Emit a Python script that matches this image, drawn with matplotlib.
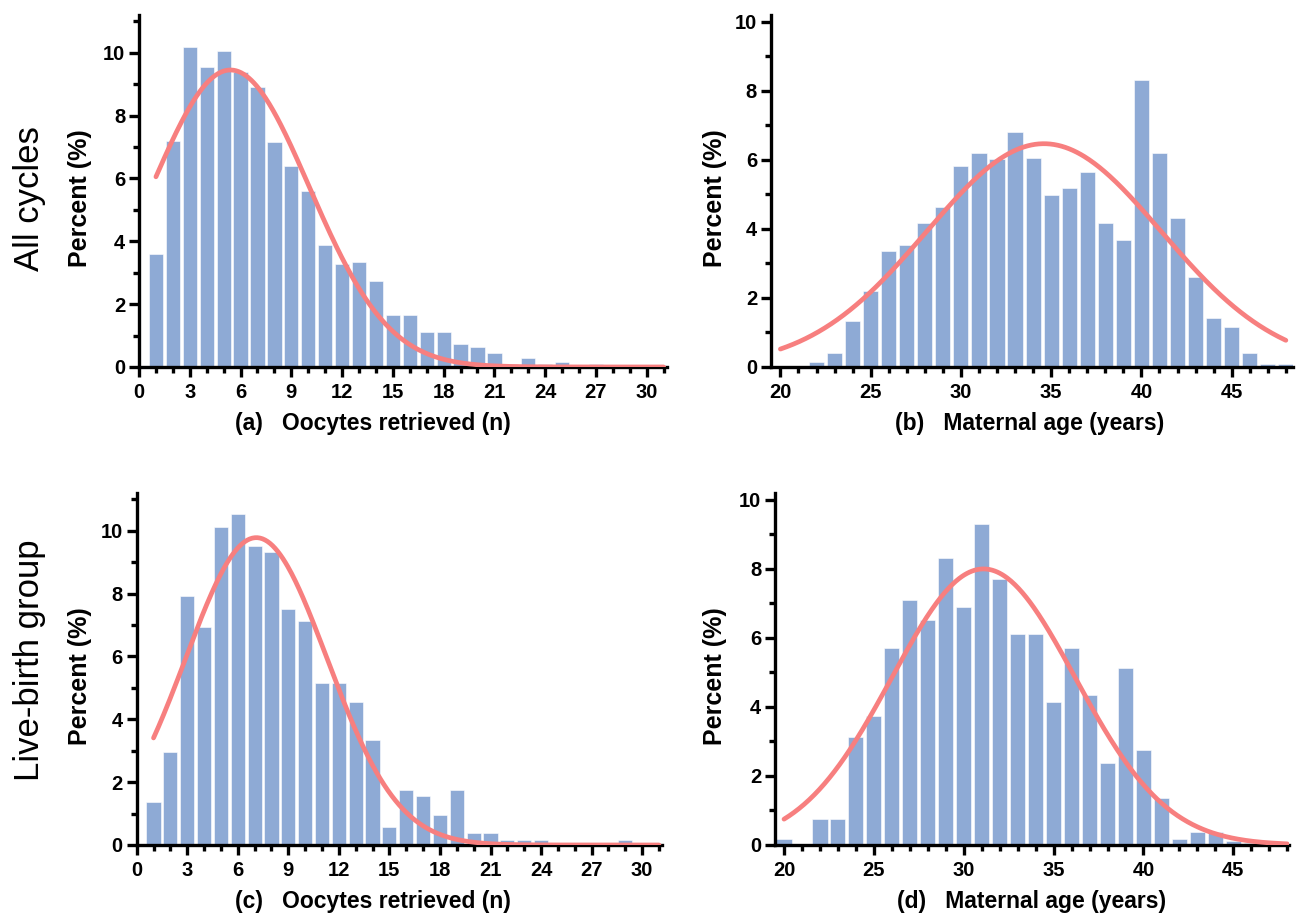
import numpy as np
import matplotlib
matplotlib.use('Agg')
import matplotlib.pyplot as plt
from matplotlib.ticker import MultipleLocator

plt.rcParams['font.family'] = ['Liberation Sans', 'DejaVu Sans']

# Oocytes retrieved (n), percent of cycles
oocyte_n = list(range(1, 31))
oocytes_all = [3.6, 7.18, 10.18, 9.53, 10.05, 9.4, 8.9, 7.15, 6.39, 5.6,
               3.88, 3.27, 3.35, 2.73, 1.64, 1.64, 1.12, 1.12, 0.72, 0.63,
               0.46, 0.08, 0.28, 0.08, 0.15, 0.0, 0.1, 0.0, 0.0, 0.0]
oocytes_live = [1.36, 2.96, 7.93, 6.94, 10.12, 10.52, 9.52, 9.33, 7.52, 7.12,
                5.15, 5.15, 4.54, 3.35, 0.56, 1.76, 1.56, 0.97, 1.76, 0.37,
                0.37, 0.17, 0.17, 0.17, 0.0, 0.0, 0.0, 0.0, 0.17, 0.0]

# Maternal age (years), percent of cycles
age_years = list(range(20, 49))
age_all = [0.04, 0.04, 0.15, 0.41, 1.32, 2.2, 3.35, 3.53, 4.18, 4.63,
           5.82, 6.21, 6.02, 6.8, 6.07, 4.99, 5.19, 5.64, 4.18, 3.67,
           8.31, 6.21, 4.31, 2.61, 1.41, 1.16, 0.41, 0.1, 0.1]
age_live = [0.16, 0.03, 0.76, 0.76, 3.14, 3.74, 5.72, 7.11, 6.51, 8.31,
            6.91, 9.3, 7.71, 6.12, 6.12, 4.14, 5.72, 4.34, 2.37, 5.13,
            2.75, 1.35, 0.17, 0.38, 0.38, 0.12, 0.05, 0.03, 0.05]

# Gaussian fits: mean, sd, peak height
fit_a = (5.4, 4.66, 9.45)
fit_b = (34.6, 6.5, 6.47)
fit_c = (7.1, 4.2, 9.78)
fit_d = (31.1, 5.1, 8.0)

bar_color = '#8eaad5'
curve_color = '#f77f7f'

fig = plt.figure(figsize=(12.98, 9.14), dpi=100)


def panel(rect, x, y, fit, fit_range, xlim, ylim, xmajor, xlabel, xlab_x, ylab_x):
    ax = fig.add_axes(rect)
    ax.bar(x, y, width=0.84, color=bar_color, edgecolor='white', linewidth=0.4, zorder=2)
    mu, sd, peak = fit
    xs = np.linspace(fit_range[0], fit_range[1], 400)
    ax.plot(xs, peak * np.exp(-(xs - mu) ** 2 / (2 * sd ** 2)),
            color=curve_color, linewidth=3.4, solid_capstyle='round', zorder=3)
    ax.set_xlim(*xlim)
    ax.set_ylim(*ylim)
    ax.xaxis.set_major_locator(MultipleLocator(xmajor))
    ax.xaxis.set_minor_locator(MultipleLocator(1))
    ax.yaxis.set_major_locator(MultipleLocator(2))
    ax.yaxis.set_minor_locator(MultipleLocator(1))
    for s in ['top', 'right']:
        ax.spines[s].set_visible(False)
    for s in ['left', 'bottom']:
        ax.spines[s].set_linewidth(2.4)
    ax.tick_params(which='major', direction='out', length=7.5, width=2.4)
    ax.tick_params(which='minor', direction='out', length=4.5, width=2.4)
    ax.tick_params(axis='x', which='major', pad=4)
    ax.tick_params(axis='y', which='major', pad=2.5)
    for lab in ax.get_xticklabels() + ax.get_yticklabels():
        lab.set_fontweight('bold')
        lab.set_fontsize(14.5)
    ax.set_xlabel(xlabel, fontsize=16.5, fontweight='bold')
    ax.set_ylabel('Percent (%)', fontsize=18, fontweight='bold')
    ax.xaxis.set_label_coords(xlab_x, -0.128)
    ax.yaxis.set_label_coords(ylab_x, 0.48)
    return ax


panel([0.1071, 0.5985, 0.4068, 0.3851], oocyte_n, oocytes_all, fit_a, (1, 31),
      (0, 31.2), (0, 11.2), 3, '(a)   Oocytes retrieved (n)', 0.443, -0.089)
panel([0.5940, 0.5985, 0.4022, 0.3851], age_years, age_all, fit_b, (20, 48),
      (19.48, 48.4), (0, 10.2), 5, '(b)   Maternal age (years)', 0.496, -0.084)
panel([0.1053, 0.0755, 0.4050, 0.3851], oocyte_n, oocytes_live, fit_c, (1, 31),
      (0, 31.2), (0, 11.2), 3, '(c)   Oocytes retrieved (n)', 0.45, -0.085)
panel([0.5971, 0.0755, 0.3960, 0.3851], age_years, age_live, fit_d, (20, 48),
      (19.5, 48.1), (0, 10.2), 5, '(d)   Maternal age (years)', 0.5, -0.093)

fig.text(30 / 1298, 1 - 199 / 914, 'All cycles', rotation=90, fontsize=25,
         ha='center', va='center')
fig.text(30 / 1298, 1 - 660 / 914, 'Live-birth group', rotation=90, fontsize=25,
         ha='center', va='center')

fig.savefig('out.png', dpi=100)
